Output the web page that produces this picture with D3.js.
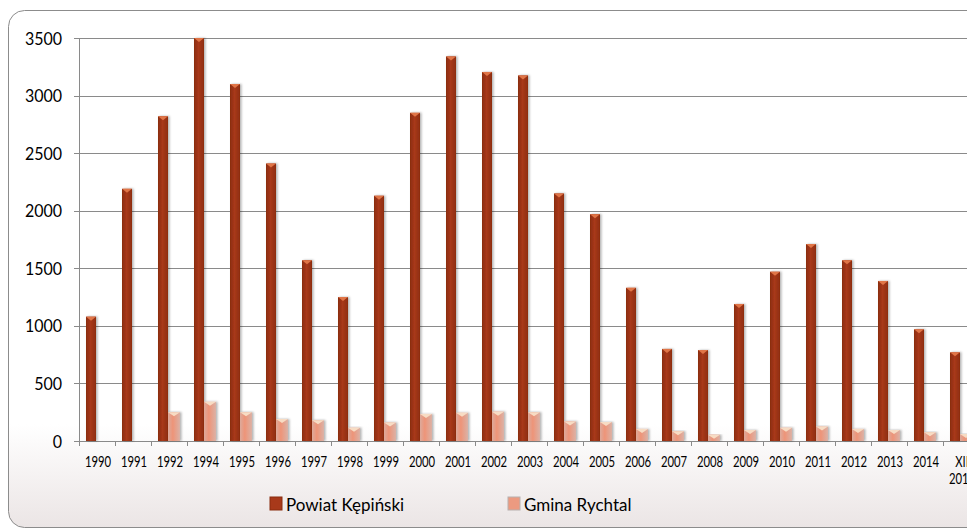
<!DOCTYPE html>
<html>
<head>
<meta charset="utf-8">
<script src="https://cdn.jsdelivr.net/npm/d3@7"></script>
<style>
  body { margin: 0; background: #fff; }
  svg { display: block; }
</style>
</head>
<body>
<div id="chart"></div>
<script>
// chart data
var years = ['1990','1991','1992','1994','1995','1996','1997','1998','1999','2000','2001','2002','2003',
             '2004','2005','2006','2007','2008','2009','2010','2011','2012','2013','2014','XII 2015'];
var powiat = [1080,2190,2820,3500,3100,2410,1570,1250,2130,2850,3340,3205,3175,
              2150,1970,1330,800,790,1190,1470,1710,1570,1390,970,770];
var gmina = [0,0,250,340,250,190,180,115,160,235,245,255,250,
             170,165,105,85,55,95,115,125,105,95,75,60];
var yTicks = [0,500,1000,1500,2000,2500,3000,3500];
var seriesNames = ['Powiat Kępiński','Gmina Rychtal'];

var svgwidth = 967, svgheight = 529;
var margin = {left: 79, top: 38};
var bandW = 36;
var width = bandW * years.length, height = 403;
var font = 'Lato, "Open Sans", sans-serif';

var svg = d3.select('#chart').append('svg')
  .attr('width', svgwidth)
  .attr('height', svgheight);

var defs = svg.append('defs');

var bg = defs.append('linearGradient').attr('id', 'bg').attr('x1', 0).attr('x2', 0).attr('y1', 0).attr('y2', 1);
bg.append('stop').attr('offset', '0.8').attr('stop-color', '#ffffff');
bg.append('stop').attr('offset', '1').attr('stop-color', '#ebe5e5');

var gp = defs.append('linearGradient').attr('id', 'gp');
gp.append('stop').attr('offset', '0').attr('stop-color', '#8a2c0f');
gp.append('stop').attr('offset', '0.45').attr('stop-color', '#a8391a');
gp.append('stop').attr('offset', '1').attr('stop-color', '#8e2e10');

var gg = defs.append('linearGradient').attr('id', 'gg');
gg.append('stop').attr('offset', '0').attr('stop-color', '#dcaa9c');
gg.append('stop').attr('offset', '0.4').attr('stop-color', '#ee9478');
gg.append('stop').attr('offset', '1').attr('stop-color', '#dbb2a6');

var shadow = defs.append('filter').attr('id', 'sh').attr('x', '-50%').attr('width', '200%');
shadow.append('feDropShadow').attr('dx', 1.5).attr('dy', 0).attr('stdDeviation', 1.2)
  .attr('flood-color', '#000').attr('flood-opacity', 0.3);

// frame
svg.append('rect')
  .attr('x', 8.5).attr('y', 10.5)
  .attr('width', 1000).attr('height', 517)
  .attr('rx', 16)
  .attr('fill', 'url(#bg)')
  .attr('stroke', '#8c8c8c')
  .attr('stroke-width', 1);

var x = d3.scaleBand().domain(years).range([0, width]);
var y = d3.scaleLinear().domain([0, 3500]).range([height, 0]);

var focus = svg.append('g')
  .attr('transform', 'translate(' + margin.left + ',' + margin.top + ')');

// grid lines
focus.append('g').selectAll('line')
  .data(yTicks)
  .enter().append('line')
    .attr('x1', -5).attr('x2', svgwidth)
    .attr('y1', function(d) { return Math.round(y(d)) + 0.5; })
    .attr('y2', function(d) { return Math.round(y(d)) + 0.5; })
    .attr('stroke', '#8a8a8a')
    .attr('stroke-width', 1.2);

// y axis
var yAxis = d3.axisLeft(y).tickValues(yTicks).tickSize(0).tickFormat(function() { return ''; });
var gY = focus.append('g').call(yAxis);
gY.select('.domain').attr('stroke', '#8a8a8a');
// y labels (stretched a little, like the picture)
focus.append('g').selectAll('text')
  .data(yTicks)
  .enter().append('text')
    .attr('transform', function(d) { return 'translate(-17,' + (y(d) + 6.5) + ') scale(1,1.13)'; })
    .attr('text-anchor', 'end')
    .attr('font-family', font)
    .attr('font-size', 16)
    .attr('fill', '#000')
    .text(function(d) { return d; });

// x axis ticks
focus.append('g').selectAll('line')
  .data(years)
  .enter().append('line')
    .attr('x1', function(d) { return x(d) + 0.5; })
    .attr('x2', function(d) { return x(d) + 0.5; })
    .attr('y1', height).attr('y2', height + 5)
    .attr('stroke', '#8a8a8a');

// x labels
var labels = focus.append('g').selectAll('text')
  .data(years)
  .enter().append('text')
    .attr('transform', function(d) { return 'translate(' + (x(d) + bandW / 2 + 1) + ',' + (height + 26) + ') scale(1,1.3)'; })
    .attr('text-anchor', 'middle')
    .attr('font-family', font)
    .attr('font-size', 11.3)
    .attr('fill', '#000');
labels.each(function(d) {
  var parts = d.split(' ');
  var t = d3.select(this);
  parts.forEach(function(p, i) {
    t.append('tspan').attr('x', 0).attr('dy', i ? 13 : 0).text(p);
  });
});

// bars
function drawBars(values, cls, off, w, fill, cap) {
  var g = focus.append('g').attr('class', cls);
  var b = g.selectAll('g')
    .data(values.map(function(v, i) { return {k: years[i], v: v}; }).filter(function(d) { return d.v > 0; }))
    .enter().append('g')
      .attr('filter', 'url(#sh)');
  b.append('rect')
    .attr('x', function(d) { return x(d.k) + off; })
    .attr('y', function(d) { return y(d.v); })
    .attr('width', w)
    .attr('height', function(d) { return height - y(d.v); })
    .attr('fill', fill);
  b.append('path')
    .attr('d', function(d) {
      var x0 = x(d.k) + off, y0 = y(d.v);
      return 'M' + x0 + ',' + y0 + 'L' + (x0 + w) + ',' + y0 + 'L' + (x0 + w / 2) + ',' + (y0 + 4) + 'Z';
    })
    .attr('fill', cap);
}
drawBars(powiat, 'powiat', 7, 10, 'url(#gp)', '#e07446');
drawBars(gmina, 'gmina', 17, 12, 'url(#gg)', '#f7dcc4');

// legend
var legendData = [
  {name: seriesNames[0], x: 270, color: '#a8391a', stroke: '#8a2c0f'},
  {name: seriesNames[1], x: 508, color: '#ec9a80', stroke: '#b8b0ae'}
];
var legend = svg.append('g');
legendData.forEach(function(d) {
  legend.append('rect')
    .attr('x', d.x).attr('y', 497)
    .attr('width', 12).attr('height', 13)
    .style('fill', d.color)
    .style('stroke', d.stroke);
  legend.append('text')
    .attr('transform', 'translate(' + (d.x + 16) + ',511) scale(1,1.07)')
    .attr('font-family', font)
    .attr('font-size', 17)
    .text(d.name);
});
</script>
</body>
</html>
